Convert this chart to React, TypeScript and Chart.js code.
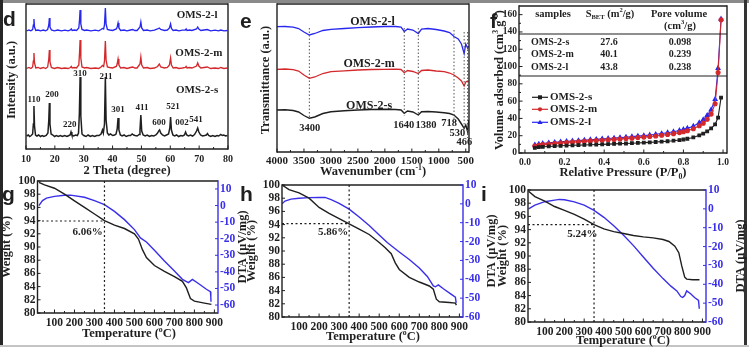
import { useEffect, useRef } from 'react';
import { Chart, registerables } from 'chart.js';

Chart.register(...registerables);

const W = 749;
const H = 351;
const SERIF = '"Liberation Serif", "Times New Roman", serif';
const SANS = '"Liberation Sans", Arial, sans-serif';
const INK = '#1f1f1f';
const RED = '#d3292c';
const BLUE = '#2727f0';
const DTA_BLUE = '#3a2fe8';

/* ---------------- panel d : XRD ---------------- */
const xrdTicks = [10, 20, 30, 40, 50, 60, 70, 80];
const xrdMinorTicks = [15, 25, 35, 45, 55, 65, 75];
const xrdOffsets = [11, 79, 117]; // baselines of s, m, l traces (a.u.)
const xrdS = [[10.2, 2], [10.8, 3], [11.3, 1.5], [11.8, 2.5], [12.3, 4], [12.55, 14], [12.75, 32], [12.95, 12], [13.3, 3], [13.8, 2], [14.4, 3], [15, 1.5], [15.6, 2.5], [16.2, 1.5], [17, 2.5], [17.6, 5], [17.9, 18], [18.1, 35], [18.3, 14], [18.7, 4], [19.3, 3], [19.9, 1.5], [20.5, 2.5], [21.2, 1.5], [21.9, 2.5], [22.6, 1.5], [23.4, 2.5], [24.2, 1.5], [24.9, 2.5], [25.3, 3], [25.6, 6], [25.9, 3], [26.5, 2], [27.2, 3], [27.8, 2.5], [28.2, 5], [28.5, 25], [28.75, 61], [29.0, 22], [29.4, 4], [30, 2.5], [30.8, 1.5], [31.5, 3], [32.3, 1.5], [33, 2.5], [33.8, 1.5], [34.5, 2.5], [35.3, 2.5], [36, 4], [36.5, 8], [36.8, 5], [37.2, 14], [37.5, 61], [37.75, 18], [38.2, 5], [38.7, 3], [39.3, 4], [40, 2.5], [40.7, 3], [41.2, 4], [41.6, 9], [41.9, 20], [42.2, 8], [42.7, 3], [43.3, 2], [44, 3], [44.7, 1.5], [45.5, 2.5], [46.2, 2.5], [46.8, 4], [47.3, 3], [47.8, 2.5], [48.5, 2], [49.2, 3.5], [49.5, 8], [49.8, 23], [50.1, 7], [50.6, 3], [51.3, 2], [52, 3], [52.8, 1.5], [53.5, 2.5], [54.3, 2], [55, 3], [55.6, 5], [56.0, 7], [56.3, 8], [56.7, 5], [57.3, 3], [58, 2], [58.7, 3], [59.4, 4], [59.85, 10], [60.1, 21], [60.4, 8], [60.9, 3], [61.5, 2], [62.2, 3], [62.9, 1.5], [63.6, 2.5], [64.3, 2], [64.9, 3], [65.3, 6], [65.7, 3], [66.3, 2], [67, 3], [67.7, 2], [68.4, 3.5], [69.1, 7], [69.5, 10], [69.9, 6], [70.5, 3], [71.2, 2], [71.9, 2.5], [72.5, 3], [72.9, 4.5], [73.3, 2.5], [74, 1.5], [74.7, 2.5], [75.5, 1.5], [76.2, 2.5], [76.8, 2], [77.5, 3.5], [78, 2.5], [78.5, 3], [79.2, 2], [79.8, 2.5]];
const xrdM = [[10.2, 1.5], [11, 2.5], [11.7, 1.5], [12.3, 3], [12.55, 9], [12.75, 17], [12.95, 7], [13.4, 2], [14.2, 2.5], [15, 1.5], [16, 2.5], [16.8, 1.5], [17.5, 3], [17.9, 11], [18.1, 20], [18.3, 8], [18.8, 2.5], [19.8, 1.5], [21, 2.5], [22.3, 1.5], [23.5, 2], [24.6, 1.5], [25.4, 2.5], [25.7, 3.5], [26, 2], [26.8, 2.5], [27.5, 2], [28.3, 5], [28.55, 17], [28.75, 30], [29, 12], [29.4, 3], [30.3, 2], [31, 2.5], [32.5, 1.5], [34, 2], [35.2, 1.5], [36, 3], [36.5, 4.5], [36.9, 3.5], [37.2, 9], [37.5, 29], [37.75, 10], [38.2, 3], [39, 2.5], [40, 2], [41.3, 3.5], [41.6, 6], [41.9, 11], [42.2, 5], [42.8, 2], [44, 2.5], [45, 1.5], [46.2, 2.5], [47, 3], [47.7, 2], [48.5, 2], [49.5, 6], [49.8, 13], [50.1, 5], [50.7, 2], [52, 2.5], [53, 1.5], [54.5, 2], [55.6, 3.5], [56.2, 6], [56.7, 3], [58, 2], [59, 2.5], [59.7, 5], [60.1, 12], [60.4, 5], [61, 2], [62, 2.5], [63, 1.5], [64.2, 2], [65.2, 2.5], [65.5, 3.5], [65.8, 2], [66.7, 2.5], [67.5, 2], [69.1, 4], [69.5, 7], [69.9, 4], [70.6, 2], [71.7, 2.5], [72.8, 3], [74, 1.5], [75.5, 2], [76.7, 1.5], [77.5, 2.5], [78.6, 1.5], [79.8, 2]];
const xrdL = [[10.2, 1], [11, 2], [11.7, 1.2], [12.3, 2.5], [12.55, 7], [12.75, 13], [12.95, 5], [13.4, 1.5], [14.2, 2], [15, 1.2], [16, 2], [16.8, 1.2], [17.5, 2.5], [17.9, 7], [18.1, 14], [18.3, 5], [18.8, 2], [19.8, 1.2], [21, 2], [22.3, 1.2], [23.5, 1.8], [24.6, 1.2], [25.4, 2], [25.7, 3], [26, 1.5], [26.8, 2], [27.5, 1.5], [28.3, 4], [28.55, 12], [28.75, 22], [29, 8], [29.4, 2.5], [30.3, 1.5], [31, 2], [32.5, 1.2], [34, 1.8], [35.2, 1.2], [36, 2.5], [36.5, 3.5], [36.9, 3], [37.2, 7], [37.5, 24], [37.75, 8], [38.2, 2.5], [39, 2], [40, 1.5], [41.3, 3], [41.6, 5], [41.9, 9], [42.2, 4], [42.8, 1.5], [44, 2], [45, 1.2], [46.2, 2], [47, 2.5], [47.7, 1.5], [48.5, 1.5], [49.5, 5], [49.8, 10], [50.1, 4], [50.7, 1.5], [52, 2], [53, 1.2], [54.5, 1.8], [55.6, 3], [56.2, 4], [56.7, 2.5], [58, 1.5], [59, 2], [59.7, 4], [60.1, 8], [60.4, 3.5], [61, 1.5], [62, 2], [63, 1.2], [64.2, 1.8], [65.2, 2], [65.5, 3], [65.8, 1.5], [66.7, 2], [67.5, 1.5], [69.1, 3], [69.5, 5], [69.9, 3], [70.6, 1.5], [71.7, 2], [72.8, 2.5], [74, 1.2], [75.5, 1.8], [76.7, 1.2], [77.5, 2], [78.6, 1.2], [79.8, 1.5]];
const xrdNames = ['OMS-2-s', 'OMS-2-m', 'OMS-2-l'];
const xrdNameX = [69.3, 69.9, 69.3];
const xrdNameY = [59, 96, 134];
const xrdPeakText = ['110', '200', '220', '310', '211', '301', '411', '600', '521', '002', '541'];
const xrdPeakX = [12.8, 19.0, 25.2, 28.7, 37.7, 41.9, 50.2, 56.1, 60.9, 64.1, 68.9];
const xrdPeakY = [49, 54, 24, 75, 72, 39, 41, 26, 42, 26, 29];

/* ---------------- panel e : FTIR ---------------- */
const irTicks = [4000, 3500, 3000, 2500, 2000, 1500, 1000, 500];
const irMinorTicks = [3750, 3250, 2750, 2250, 1750, 1250, 750];
const irWavenumber = [4000, 3850, 3700, 3600, 3500, 3400, 3300, 3150, 3000, 2750, 2500, 2250, 2000, 1800, 1700, 1640, 1580, 1480, 1380, 1320, 1200, 1050, 900, 800, 718, 640, 580, 530, 500, 466, 445];
const irS = [42, 42.3, 41.5, 40, 36.5, 33.7, 35, 38.5, 40.3, 41.3, 42, 42.5, 42.7, 42.5, 42, 38.7, 41, 40, 37, 40.3, 40.5, 40, 39.3, 38.5, 37, 33, 28, 23.7, 27, 20.3, 32];
const irM = [82.7, 83, 82.3, 81, 77, 73.7, 75, 78.5, 80.3, 81.2, 82, 82.5, 82.7, 82.8, 82.5, 79.3, 81.5, 80.5, 78.5, 81.5, 82, 81, 80.3, 79, 77, 74, 71, 66, 70, 71, 70.5];
const irL = [125.3, 125.5, 124.8, 123.5, 120, 117, 118.5, 121.5, 122.7, 123.5, 124.3, 125, 125.5, 125.5, 125, 120.5, 123, 122, 118.5, 123, 123.5, 122.5, 121, 119.5, 115.5, 113, 108, 98.5, 108, 104, 106];
const irNames = ['OMS-2-s', 'OMS-2-m', 'OMS-2-l'];
const irNameX = [2292, 2292, 2230];
const irNameY = [46, 88, 130.3];
const irBands = [3400, 1640, 1380, 718, 530, 466];
const irBandTop = [124, 124, 124, 122, 120, 120];
const irBandBottom = [34, 36, 36, 30, 22, 14];
const irBandLabelX = [3395, 1649, 1237, 809, 656, 527];
const irBandLabelY = [23.7, 27, 27, 28.7, 18.7, 9.3];

/* ---------------- panel f : N2 isotherms ---------------- */
const betP = [0.05, 0.07, 0.09, 0.12, 0.15, 0.18, 0.21, 0.24, 0.27, 0.3, 0.33, 0.36, 0.39, 0.42, 0.45, 0.48, 0.51, 0.54, 0.57, 0.6, 0.63, 0.66, 0.69, 0.72, 0.75, 0.78, 0.8, 0.82, 0.85, 0.88, 0.9, 0.92, 0.94, 0.96, 0.975, 0.99];
const betS = [6, 6.8, 7.2, 7.6, 8, 8.3, 8.6, 8.9, 9.1, 9.3, 9.6, 9.8, 10, 10.3, 10.5, 10.8, 11, 11.3, 11.6, 12, 12.3, 12.7, 13.1, 13.6, 14.2, 15, 15.6, 16.5, 18, 20.5, 22.5, 25, 28.5, 33, 41, 64];
const betM = [8, 9, 9.7, 10.4, 11, 11.6, 12.1, 12.6, 13, 13.5, 14, 14.4, 14.8, 15.3, 15.7, 16.2, 16.7, 17.2, 17.8, 18.4, 19, 19.7, 20.5, 21.4, 22.4, 23.6, 24.6, 25.8, 28, 31.5, 34.5, 39, 45, 57, 93, 154];
const betL = [9.5, 10.3, 11, 11.7, 12.3, 12.9, 13.4, 13.9, 14.4, 14.9, 15.4, 15.8, 16.3, 16.8, 17.3, 17.8, 18.3, 18.9, 19.5, 20.1, 20.8, 21.6, 22.5, 23.5, 24.6, 26, 27.2, 28.6, 31, 35, 38.5, 43.5, 50, 62, 98, 155];
const betTicksX = [0, 0.2, 0.4, 0.6, 0.8, 1.0];
const betMinorX = [0.1, 0.3, 0.5, 0.7, 0.9];
const betTicksY = [0, 20, 40, 60, 80, 100, 120, 140, 160];
const betMinorY = [10, 30, 50, 70, 90, 110, 130, 150];
const tableSamples = ['OMS-2-s', 'OMS-2-m', 'OMS-2-l'];
const tableSbet = ['27.6', '40.1', '43.8'];
const tablePore = ['0.098', '0.239', '0.238'];

/* ---------------- panels g, h, i : TG / DTA ---------------- */
const tgTicks = [100, 200, 300, 400, 500, 600, 700, 800, 900];
const tgMinor = [50, 150, 250, 350, 450, 550, 650, 750, 850];
const wTicks = [80, 82, 84, 86, 88, 90, 92, 94, 96, 98, 100];
const dtaTicks = [-60, -50, -40, -30, -20, -10, 0, 10];

const tgT_g = [22, 50, 100, 150, 200, 250, 300, 350, 400, 450, 500, 520, 540, 560, 600, 650, 700, 740, 760, 780, 800, 850, 885];
const tgW_g = [99.8, 99.4, 98.9, 98.0, 97.0, 96.0, 95.0, 94.0, 93.3, 92.8, 92.0, 91.2, 89.6, 88.4, 87.2, 86.3, 85.5, 84.8, 83.8, 82.2, 81.8, 81.5, 81.3];
const dtaT_g = [22, 40, 60, 100, 150, 180, 250, 300, 350, 400, 450, 500, 530, 560, 600, 650, 700, 740, 770, 790, 820, 860, 880, 882, 883];
const dtaV_g = [0, 3, 4.5, 5.5, 6.2, 6.3, 5, 3, 0.5, -3.5, -8.5, -14.5, -19.5, -22, -27, -33.5, -39.5, -44.5, -46.5, -44.5, -47, -50.5, -52, -55, -58];
const loss_g = '6.06%';
const lossW_g = 93.94;

const tgT_h = [15, 50, 100, 150, 200, 250, 300, 350, 400, 450, 500, 530, 560, 580, 600, 650, 700, 750, 770, 785, 800, 850, 880, 885];
const tgW_h = [100, 99.3, 98.8, 98.0, 96.6, 95.7, 94.9, 94.1, 93.3, 92.5, 91.3, 90.5, 89.6, 88.2, 87.2, 86.0, 85.3, 84.7, 84.2, 82.7, 82.3, 82.2, 82.1, 81.8];
const dtaT_h = [15, 30, 60, 100, 150, 200, 230, 260, 300, 350, 400, 450, 500, 540, 570, 600, 650, 700, 740, 770, 780, 795, 820, 860, 880, 884];
const dtaV_h = [0, 1.5, 2.5, 3, 3.3, 3.4, 3.4, 2.2, 0.3, -2.8, -7, -11.5, -16.5, -20.5, -23, -25.5, -29.5, -34, -38.5, -43.5, -44, -43, -45, -48, -49.5, -52.5];
const loss_h = '5.86%';
const lossW_h = 94.14;

const tgT_i = [18, 50, 100, 150, 200, 250, 300, 350, 400, 450, 500, 550, 600, 650, 700, 730, 760, 780, 795, 810, 820, 850, 885];
const tgW_i = [99.8, 99.0, 98.3, 97.5, 96.9, 96.3, 95.6, 94.76, 94.1, 93.7, 93.4, 93.1, 92.9, 92.75, 92.5, 92.2, 91.5, 90.5, 88.5, 86.8, 86.5, 86.4, 86.4];
const dtaT_i = [18, 50, 100, 150, 175, 200, 250, 300, 350, 400, 450, 500, 550, 600, 650, 700, 740, 770, 790, 800, 810, 820, 840, 860, 880, 884];
const dtaV_i = [0, 2, 3.8, 4.6, 5, 4.8, 3.7, 2, -0.8, -4.5, -9, -14, -19.5, -25.5, -31.5, -37, -41, -43.5, -46.5, -47, -46, -43.5, -45, -47, -48.5, -53];
const loss_i = '5.24%';
const lossW_i = 94.76;

/* ---------------- helpers ---------------- */
type Seg = string | [string, 'sup' | 'sub'];

const pts = (xs: number[], ys: number[]) => xs.map((x, i) => ({ x, y: ys[i] }));
const pairs = (arr: number[][], off: number) => arr.map(([x, y]) => ({ x, y: y + off }));

function rich(ctx: CanvasRenderingContext2D, segs: Seg[], x: number, y: number, size: number, o: any = {}) {
  const family = o.family || SERIF;
  const weight = o.weight || 'bold';
  const align = o.align || 'center';
  ctx.save();
  ctx.translate(x, y);
  if (o.rot) ctx.rotate(o.rot);
  ctx.fillStyle = o.color || INK;
  ctx.textBaseline = 'middle';
  ctx.textAlign = 'left';
  const parts = segs.map((s) => (typeof s === 'string' ? { t: s, k: '' } : { t: s[0], k: s[1] }));
  const font = (k: string) => `${weight} ${k ? size * 0.62 : size}px ${family}`;
  let total = 0;
  const ws = parts.map((p) => {
    ctx.font = font(p.k);
    const w = ctx.measureText(p.t).width;
    total += w;
    return w;
  });
  let cx = align === 'center' ? -total / 2 : align === 'right' ? -total : 0;
  parts.forEach((p, i) => {
    ctx.font = font(p.k);
    const dy = p.k === 'sup' ? -size * 0.33 : p.k === 'sub' ? size * 0.3 : 0;
    ctx.fillText(p.t, cx, dy);
    cx += ws[i];
  });
  ctx.restore();
}

function line(ctx: CanvasRenderingContext2D, x1: number, y1: number, x2: number, y2: number, color: string, lw: number, dash: number[] = []) {
  ctx.save();
  ctx.strokeStyle = color;
  ctx.lineWidth = lw;
  ctx.setLineDash(dash);
  ctx.beginPath();
  ctx.moveTo(x1, y1);
  ctx.lineTo(x2, y2);
  ctx.stroke();
  ctx.restore();
}

function frame(ctx: CanvasRenderingContext2D, a: any, right = INK, lw = 1.4) {
  line(ctx, a.left, a.top, a.right, a.top, INK, lw);
  line(ctx, a.left, a.bottom, a.right, a.bottom, INK, lw);
  line(ctx, a.left, a.top - lw / 2, a.left, a.bottom + lw / 2, INK, lw);
  line(ctx, a.right, a.top - lw / 2, a.right, a.bottom + lw / 2, right, lw);
}

function ticksIn(chart: any, axis: string, vals: number[], len: number, side: string, color = INK) {
  const ctx = chart.ctx;
  const a = chart.chartArea;
  const s = chart.scales[axis];
  vals.forEach((v) => {
    const p = s.getPixelForValue(v);
    if (side === 'bottom') line(ctx, p, a.bottom, p, a.bottom - len, color, 1);
    else if (side === 'left') line(ctx, a.left, p, a.left + len, p, color, 1);
    else line(ctx, a.right, p, a.right - len, p, color, 1);
  });
}

function axis(o: any) {
  if (o.hidden) return { type: 'linear', display: false, min: o.min, max: o.max, position: o.pos, reverse: !!o.reverse };
  return {
    type: 'linear',
    position: o.pos,
    min: o.min,
    max: o.max,
    reverse: !!o.reverse,
    grid: { display: false, drawTicks: false },
    border: { display: false },
    ticks: {
      autoSkip: false,
      maxRotation: 0,
      minRotation: 0,
      padding: o.pad,
      color: o.color || INK,
      font: { family: SERIF, weight: 'bold', size: o.font },
      callback: (v: number) => (o.fmt ? o.fmt(v) : String(v)),
    },
    afterBuildTicks: (s: any) => {
      s.ticks = o.ticks.map((v: number) => ({ value: v }));
    },
    afterFit: (s: any) => {
      if (s.isHorizontal()) s.height = o.size;
      else s.width = o.size;
      s.paddingLeft = 0;
      s.paddingRight = 0;
      s.paddingTop = 0;
      s.paddingBottom = 0;
    },
  };
}

function ds(data: any[], color: string, yAxisID = 'y', extra: any = {}) {
  return { data, borderColor: color, backgroundColor: color, borderWidth: 1.2, pointRadius: 0, tension: 0, fill: false, yAxisID, ...extra };
}

function build(canvas: HTMLCanvasElement, spec: any) {
  const a = spec.area;
  const ax = spec.axW;
  return new Chart(canvas, {
    type: 'line',
    data: { datasets: spec.datasets },
    options: {
      responsive: false,
      maintainAspectRatio: false,
      animation: false,
      events: [],
      layout: { padding: { left: a.l - (ax.left || 0), top: a.t, right: W - a.r - (ax.right || 0), bottom: H - a.b - (ax.bottom || 0) } },
      plugins: { legend: { display: false }, tooltip: { enabled: false }, title: { display: false } },
      scales: spec.scales,
    },
    plugins: [{ id: 'deco', afterDraw: (c: any) => spec.draw(c) }],
  } as any);
}

const R90 = -Math.PI / 2;

function tgSpec(area: any, xLabelPad: number, T: number[], Wt: number[], DT: number[], DV: number[], dtaMin: number, dtaMax: number, loss: string, lossW: number, lossRight: number, lossY: number, letter: any, titles: any) {
  return {
    area,
    axW: { left: 30, right: 30, bottom: 20 },
    datasets: [
      ds(pts(T, Wt), INK, 'y', { borderWidth: 1.4 }),
      ds(pts(DT, DV), DTA_BLUE, 'y2', { borderWidth: 1.4 }),
    ],
    scales: {
      x: axis({ pos: 'bottom', min: 15, max: 918, ticks: tgTicks, size: 20, font: 11.5, pad: xLabelPad }),
      y: axis({ pos: 'left', min: 80, max: 100, ticks: wTicks, size: 30, font: 11.5, pad: 2 }),
      y2: axis({ pos: 'right', min: dtaMin, max: dtaMax, ticks: dtaTicks, size: 30, font: 11.5, pad: 2, color: DTA_BLUE }),
    },
    draw: (c: any) => {
      const ctx = c.ctx;
      const a = c.chartArea;
      const sx = c.scales.x;
      const sy = c.scales.y;
      const x350 = sx.getPixelForValue(350);
      const yl = sy.getPixelForValue(lossW);
      line(ctx, a.left, yl, x350, yl, INK, 1.2, [2, 2.5]);
      line(ctx, x350, a.top, x350, a.bottom, INK, 1.2, [2, 2.5]);
      frame(ctx, a, DTA_BLUE);
      ticksIn(c, 'x', tgTicks, 3.5, 'bottom');
      ticksIn(c, 'x', tgMinor, 2, 'bottom');
      ticksIn(c, 'y', wTicks, 3, 'left');
      ticksIn(c, 'y2', dtaTicks, 3, 'right', DTA_BLUE);
      rich(ctx, [loss], sx.getPixelForValue(lossRight), sy.getPixelForValue(lossY), 11, { align: 'right' });
      rich(ctx, [letter.t], letter.x, letter.y, 21, { family: SANS, align: 'left' });
      rich(ctx, ['Temperature (', ['o', 'sup'], 'C)'], titles.xx, titles.xy, 12.5);
      rich(ctx, ['Weight (%)'], titles.wl, titles.vy, 12.5, { rot: R90 });
      rich(ctx, ['DTA (\u03bcV/mg)'], titles.wr, titles.vy, 12.5, { rot: R90 });
    },
  };
}

function makeSpecs() {
  const d = {
    area: { l: 26, t: 4, r: 228, b: 149 },
    axW: { bottom: 20 },
    datasets: [
      ds(pairs(xrdS, xrdOffsets[0]), INK, 'y', { borderWidth: 1.5 }),
      ds(pairs(xrdM, xrdOffsets[1]), RED, 'y', { borderWidth: 1.35 }),
      ds(pairs(xrdL, xrdOffsets[2]), BLUE, 'y', { borderWidth: 1.35 }),
    ],
    scales: {
      x: axis({ pos: 'bottom', min: 10, max: 80, ticks: xrdTicks, size: 20, font: 10, pad: 4 }),
      y: axis({ hidden: true, pos: 'left', min: 0, max: 145 }),
    },
    draw: (c: any) => {
      const ctx = c.ctx;
      const a = c.chartArea;
      const sx = c.scales.x;
      const sy = c.scales.y;
      frame(ctx, a);
      ticksIn(c, 'x', xrdTicks, 3.5, 'bottom');
      ticksIn(c, 'x', xrdMinorTicks, 2, 'bottom');
      xrdPeakText.forEach((t, i) => rich(ctx, [t], sx.getPixelForValue(xrdPeakX[i]), sy.getPixelForValue(xrdPeakY[i]), 9));
      xrdNames.forEach((t, i) => rich(ctx, [t], sx.getPixelForValue(xrdNameX[i]), sy.getPixelForValue(xrdNameY[i]), 11));
      rich(ctx, ['d'], 3, 20, 21, { family: SANS, align: 'left' });
      rich(ctx, ['2 Theta (degree)'], 127, 171, 12.5);
      rich(ctx, ['Intensity (a.u.)'], 12, 80, 12.5, { rot: R90 });
    },
  };

  const e = {
    area: { l: 277, t: 4, r: 469, b: 152 },
    axW: { bottom: 20 },
    datasets: [
      ds(pts(irWavenumber, irS), INK, 'y', { borderWidth: 1.4 }),
      ds(pts(irWavenumber, irM), RED, 'y', { borderWidth: 1.3 }),
      ds(pts(irWavenumber, irL), BLUE, 'y', { borderWidth: 1.3 }),
    ],
    scales: {
      x: axis({ pos: 'bottom', min: 440, max: 4000, reverse: true, ticks: irTicks, size: 20, font: 11, pad: 3 }),
      y: axis({ hidden: true, pos: 'left', min: 0, max: 148 }),
    },
    draw: (c: any) => {
      const ctx = c.ctx;
      const a = c.chartArea;
      const sx = c.scales.x;
      const sy = c.scales.y;
      irBands.forEach((b, i) => {
        const px = sx.getPixelForValue(b);
        line(ctx, px, sy.getPixelForValue(irBandTop[i]), px, sy.getPixelForValue(irBandBottom[i]), '#555', 1, [1.5, 2]);
      });
      frame(ctx, a);
      ticksIn(c, 'x', irTicks, 3.5, 'bottom');
      ticksIn(c, 'x', irMinorTicks, 2, 'bottom');
      irBands.forEach((b, i) => rich(ctx, [String(b)], sx.getPixelForValue(irBandLabelX[i]), sy.getPixelForValue(irBandLabelY[i]), 10.5));
      irNames.forEach((t, i) => rich(ctx, [t], sx.getPixelForValue(irNameX[i]), sy.getPixelForValue(irNameY[i]), 12));
      rich(ctx, ['e'], 240, 22, 21, { family: SANS, align: 'left' });
      rich(ctx, ['Wavenumber (cm', ['-1', 'sup'], ')'], 373, 172, 12.5);
      rich(ctx, ['Transmittance (a.u.)'], 266, 80, 12.5, { rot: R90 });
    },
  };

  const f = {
    area: { l: 519, t: 6, r: 727, b: 153 },
    axW: { left: 24, bottom: 20 },
    datasets: [
      ds(pts(betP, betS), INK, 'y', { pointRadius: 1.9, pointStyle: 'rect', borderWidth: 1.1 }),
      ds(pts(betP, betM), RED, 'y', { pointRadius: 2, pointStyle: 'circle', borderWidth: 1.1 }),
      ds(pts(betP, betL), BLUE, 'y', { pointRadius: 2.3, pointStyle: 'triangle', borderWidth: 1.1 }),
    ],
    scales: {
      x: axis({ pos: 'bottom', min: -0.03, max: 1.02, ticks: betTicksX, size: 20, font: 9.5, pad: 4, fmt: (v: number) => v.toFixed(1) }),
      y: axis({ pos: 'left', min: 0, max: 170, ticks: betTicksY, size: 24, font: 9.5, pad: 2 }),
    },
    draw: (c: any) => {
      const ctx = c.ctx;
      const a = c.chartArea;
      frame(ctx, a);
      ticksIn(c, 'x', betTicksX, 3.5, 'bottom');
      ticksIn(c, 'x', betMinorX, 2, 'bottom');
      ticksIn(c, 'y', betTicksY, 3.5, 'left');
      ticksIn(c, 'y', betMinorY, 2, 'left');
      line(ctx, a.left, 34, a.right, 34, INK, 1.2);
      line(ctx, a.left, 76, a.right, 76, INK, 1.2);
      rich(ctx, ['samples'], 553, 14, 10.5);
      rich(ctx, ['S', ['BET', 'sub'], ' (m', ['2', 'sup'], '/g)'], 610, 14, 10.5);
      rich(ctx, ['Pore volume'], 679, 14, 10.5);
      rich(ctx, ['(cm', ['3', 'sup'], '/g)'], 680, 26, 10.5);
      const rowY = [42, 54.5, 67.5];
      tableSamples.forEach((t, i) => {
        rich(ctx, [t], 531, rowY[i], 10, { align: 'left' });
        rich(ctx, [tableSbet[i]], 609, rowY[i], 10);
        rich(ctx, [tablePore[i]], 680, rowY[i], 10);
      });
      const legY = [97.3, 109.3, 122.3];
      const legC = [INK, RED, BLUE];
      const legNames = ['OMS-2-s', 'OMS-2-m', 'OMS-2-l'];
      legY.forEach((y, i) => {
        line(ctx, 532, y, 548, y, legC[i], 1.2);
        ctx.save();
        ctx.fillStyle = legC[i];
        if (i === 0) ctx.fillRect(538, y - 2, 4, 4);
        else if (i === 1) {
          ctx.beginPath();
          ctx.arc(540, y, 2.1, 0, Math.PI * 2);
          ctx.fill();
        } else {
          ctx.beginPath();
          ctx.moveTo(540, y - 2.6);
          ctx.lineTo(542.6, y + 1.8);
          ctx.lineTo(537.4, y + 1.8);
          ctx.closePath();
          ctx.fill();
        }
        ctx.restore();
        rich(ctx, [legNames[i]], 550, y, 11, { align: 'left' });
      });
      rich(ctx, ['f'], 490, 22, 21, { family: SANS, align: 'left' });
      rich(ctx, ['Relative Pressure (P/P', ['0', 'sub'], ')'], 623, 173, 12.5);
      rich(ctx, ['Volume adsorbed (cm', ['3', 'sup'], ' g', ['-1', 'sup'], ')'], 500, 80, 12.5, { rot: R90 });
    },
  };

  const g = tgSpec({ l: 37.5, t: 181, r: 218, b: 313 }, 3, tgT_g, tgW_g, dtaT_g, dtaV_g, -64.8, 14.8, loss_g, lossW_g, 342, 92.3,
    { t: 'g', x: 2, y: 195 }, { xx: 129, xy: 334, wl: 7, wr: 243, vy: 247 });
  const h = tgSpec({ l: 282, t: 185, r: 463, b: 317 }, 3, tgT_h, tgW_h, dtaT_h, dtaV_h, -60, 10, loss_h, lossW_h, 346, 92.9,
    { t: 'h', x: 240, y: 195 }, { xx: 373, xy: 337, wl: 252, wr: 492, vy: 251 });
  const i = tgSpec({ l: 528, t: 190, r: 706, b: 322 }, 3, tgT_i, tgW_i, dtaT_i, dtaV_i, -60, 10, loss_i, lossW_i, 367, 93.3,
    { t: 'i', x: 481, y: 195 }, { xx: 623, xy: 341, wl: 503, wr: 741, vy: 256 });

  return [d, e, f, g, h, i];
}

export default function App() {
  const refs = useRef<(HTMLCanvasElement | null)[]>([]);
  useEffect(() => {
    document.body.style.margin = '0';
    const specs = makeSpecs();
    const charts = specs.map((s, k) => build(refs.current[k] as HTMLCanvasElement, s));
    return () => charts.forEach((c) => c.destroy());
  }, []);
  return (
    <div style={{ position: 'fixed', left: 0, top: 0, width: W, height: H, background: '#ffffff', overflow: 'hidden' }}>
      <div style={{ position: 'absolute', left: 0, top: 0, width: W, height: 3, background: '#8a8a8a' }} />
      <div style={{ position: 'absolute', left: 0, top: 0, width: 3, height: 346, background: '#262626' }} />
      <div style={{ position: 'absolute', left: 744, top: 0, width: 3, height: 346, background: '#333333' }} />
      <div style={{ position: 'absolute', left: 0, top: 345, width: W, height: 2, background: '#c4c4c4' }} />
      {[0, 1, 2, 3, 4, 5].map((k) => (
        <canvas
          key={k}
          ref={(el) => {
            refs.current[k] = el;
          }}
          width={W}
          height={H}
          style={{ position: 'absolute', left: 0, top: 0, width: W, height: H }}
        />
      ))}
    </div>
  );
}
